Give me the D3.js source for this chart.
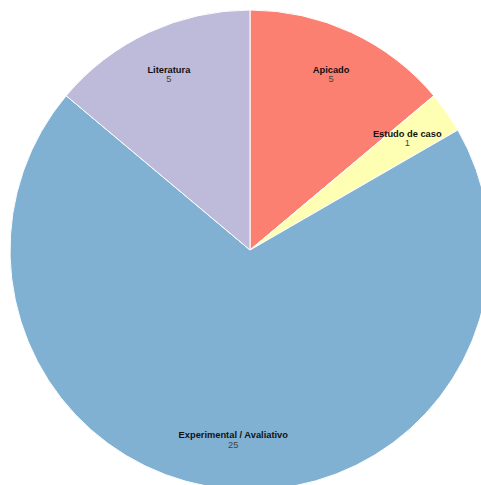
<!DOCTYPE html>
<html>
<head>
<meta charset="utf-8">
<script src="https://cdn.jsdelivr.net/npm/d3@7"></script>
<style>
  html, body { margin: 0; padding: 0; background: #fff; }
  svg { display: block; }
</style>
</head>
<body>
<svg id="chart" width="481" height="485"></svg>
<script>
// Study categories and their counts
const categories = ["Apicado", "Estudo de caso", "Experimental / Avaliativo", "Literatura"];
const counts = [5, 1, 25, 5];
const colors = ["#fb8072", "#ffffb3", "#80b1d3", "#bebada"];

const data = categories.map((c, i) => ({ category: c, count: counts[i] }));

const svg = d3.select("#chart");
const cx = 250, cy = 250, radius = 240;

const color = d3.scaleOrdinal().domain(categories).range(colors);

const pie = d3.pie().sort(null).value(d => d.count);
const arc = d3.arc().innerRadius(0).outerRadius(radius);
const labelArc = d3.arc().innerRadius(radius * 0.8).outerRadius(radius * 0.8);

const g = svg.append("g").attr("transform", `translate(${cx},${cy})`);
const arcs = pie(data);

g.selectAll("path.slice")
  .data(arcs)
  .join("path")
  .attr("class", "slice")
  .attr("d", arc)
  .attr("fill", d => color(d.data.category))
  .attr("stroke", "#fff")
  .attr("stroke-width", 1);

const labels = g.selectAll("g.label")
  .data(arcs)
  .join("g")
  .attr("class", "label")
  .attr("transform", d => `translate(${labelArc.centroid(d)})`)
  .attr("text-anchor", "middle")
  .style("font-family", "Arial, 'Liberation Sans', sans-serif")
  .style("font-size", "9.3px");

labels.append("text")
  .attr("y", -3)
  .attr("font-weight", "bold")
  .attr("fill", "#111")
  .text(d => d.data.category);

labels.append("text")
  .attr("y", 6.5)
  .attr("fill", "#444")
  .text(d => d.data.count);
</script>
</body>
</html>
